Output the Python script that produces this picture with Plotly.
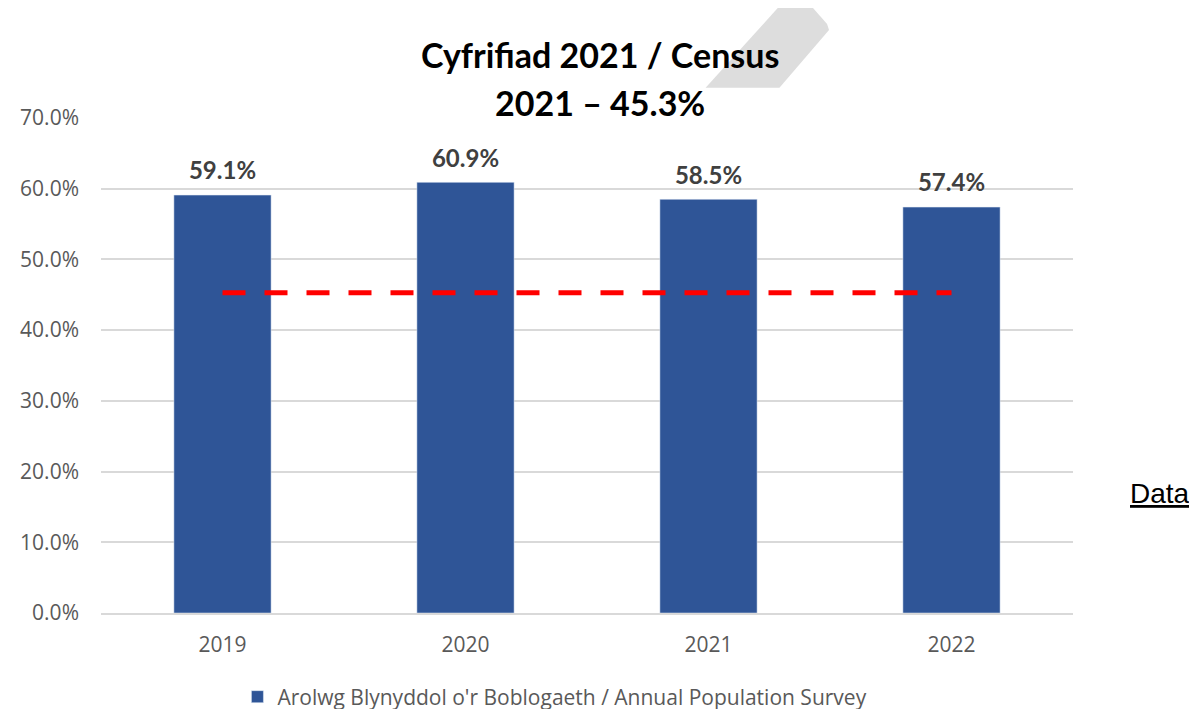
import plotly.graph_objects as go

years = ["2019", "2020", "2021", "2022"]
aps_values = [59.1, 60.9, 58.5, 57.4]
census_value = 45.3
y_ticks = [0, 10, 20, 30, 40, 50, 60, 70]
y_tick_labels = [f"{v:.1f}%" for v in y_ticks]

fig = go.Figure()
fig.add_trace(go.Bar(
    x=years, y=aps_values, width=0.4,
    marker=dict(color="#2F5597"),
    name="Arolwg Blynyddol o'r Boblogaeth / Annual Population Survey",
))
fig.add_trace(go.Scatter(
    x=years, y=[census_value] * len(years), mode="lines",
    line=dict(color="#FF0000", width=5, dash="23px,19px"),
    showlegend=False, hoverinfo="skip",
))
# data labels above bars (invisible marker sets the offset)
fig.add_trace(go.Scatter(
    x=years, y=aps_values, mode="markers+text",
    marker=dict(size=14, color="rgba(0,0,0,0)"),
    text=[f"<b>{v:.1f}%</b>" for v in aps_values],
    textposition="top center",
    textfont=dict(family="Lato", size=24, color="#404040"),
    showlegend=False, hoverinfo="skip", cliponaxis=False,
))

# decorative light grey arrow shape behind title
fig.add_shape(type="path", xref="paper", yref="paper", layer="below",
              path="M 0.709 1.25 L 0.72 1.25 L 0.747 1.19 L 0.749 1.178 L 0.698 1.061 L 0.622 1.061 Z",
              fillcolor="#DDDDDD", line=dict(width=0))

fig.add_annotation(text="<b>Cyfrifiad 2021 / Census</b>", xref="paper", yref="paper",
                   x=0.513, y=1.129, xanchor="center", yanchor="middle", showarrow=False,
                   font=dict(family="Lato", size=34, color="#000000"))
fig.add_annotation(text="<b>2021 – 45.3%</b>", xref="paper", yref="paper",
                   x=0.513, y=1.032, xanchor="center", yanchor="middle", showarrow=False,
                   font=dict(family="Lato", size=34, color="#000000"))
fig.add_annotation(text="<span style='text-decoration:underline'>Data</span>", xref="paper", yref="paper",
                   x=1.089, y=0.242, xanchor="center", yanchor="middle", showarrow=False,
                   font=dict(family="Liberation Sans", size=28, color="#000000"))

fig.update_layout(
    width=1197, height=709,
    margin=dict(l=72, r=132, t=110, b=104),
    plot_bgcolor="white", paper_bgcolor="white",
    showlegend=True,
    legend=dict(orientation="h", x=0.467, xanchor="center",
                yref="container", y=20 / 709, yanchor="middle",
                font=dict(family="Open Sans", size=21, color="#595959")),
    font=dict(family="Open Sans"),
)
fig.update_xaxes(type="category", showgrid=False, showline=True, linecolor="#D9D9D9", linewidth=1.5,
                 tickfont=dict(family="Open Sans", size=21, color="#595959"),
                 ticklabelstandoff=12)
fig.update_yaxes(range=[0, 70], tickvals=y_ticks, ticktext=y_tick_labels,
                 showgrid=True, gridcolor="#D9D9D9", gridwidth=1.5, zeroline=False,
                 tickfont=dict(family="Open Sans", size=21, color="#595959"),
                 ticklabelstandoff=21)

fig.write_html("out.html")
